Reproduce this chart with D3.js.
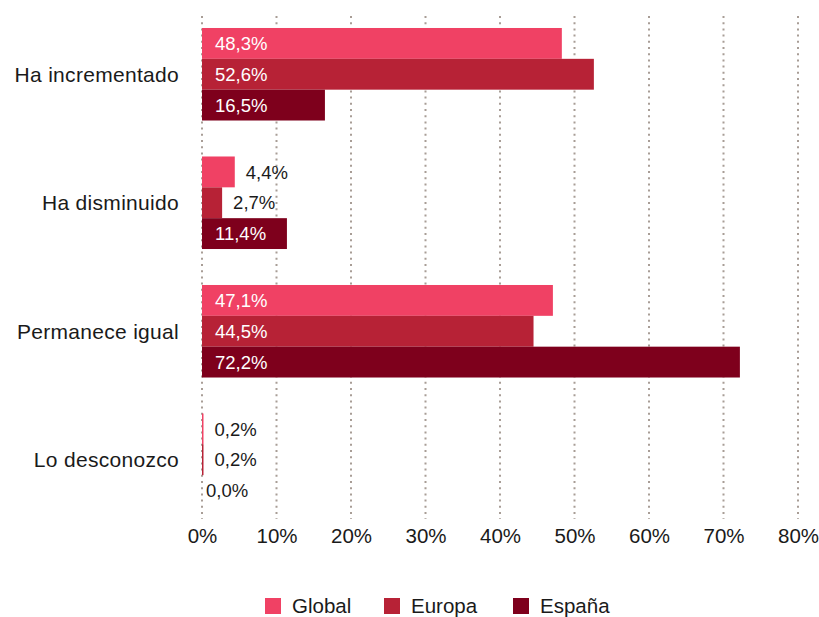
<!DOCTYPE html>
<html>
<head>
<meta charset="utf-8">
<script src="https://cdn.jsdelivr.net/npm/d3@7"></script>
<style>
  html, body { margin: 0; padding: 0; background: #fff; }
  svg { display: block; font-family: "Liberation Sans", Helvetica, Arial, sans-serif; }
</style>
</head>
<body>
<svg id="chart" width="819" height="617"></svg>
<script>
// Respuestas por categoría (porcentaje)
const categories = ["Ha incrementado", "Ha disminuido", "Permanece igual", "Lo desconozco"];
const seriesNames = ["Global", "Europa", "España"];
const globalValues = [48.3, 4.4, 47.1, 0.2];
const europaValues = [52.6, 2.7, 44.5, 0.2];
const espanaValues = [16.5, 11.4, 72.2, 0.0];
const tickValues = [0, 10, 20, 30, 40, 50, 60, 70, 80];
const seriesColors = ["#f04164", "#b72236", "#7e001c"];

const seriesValues = [globalValues, europaValues, espanaValues];
const rows = [];
categories.forEach((c, i) => {
  seriesNames.forEach((s, j) => rows.push({ category: c, series: s, value: seriesValues[j][i] }));
});

const svg = d3.select("#chart");
const textColor = "#1a1a1a";

const x = d3.scaleLinear().domain([0, 80]).range([202, 798]);
const y0 = d3.scaleBand().domain(categories).range([10, 524]).paddingInner(0.28).paddingOuter(0.14);
const y1 = d3.scaleBand().domain(seriesNames).range([0, y0.bandwidth()]);
const color = d3.scaleOrdinal().domain(seriesNames).range(seriesColors);

const locale = d3.formatLocale({ decimal: ",", thousands: ".", grouping: [3], currency: ["", "€"] });
const fmt = locale.format(".1f");

// Líneas de cuadrícula punteadas
svg.append("g")
  .selectAll("line")
  .data(tickValues)
  .join("line")
  .attr("x1", d => x(d)).attr("x2", d => x(d))
  .attr("y1", 16).attr("y2", 519)
  .attr("stroke", "#a89d96")
  .attr("stroke-width", 2)
  .attr("stroke-dasharray", "2 4.2");

// Eje inferior
const axis = svg.append("g")
  .attr("transform", "translate(0,520)")
  .call(d3.axisBottom(x).tickValues(tickValues).tickSize(0).tickPadding(8).tickFormat(d => d + "%"));
axis.select(".domain").remove();
axis.selectAll("text")
  .attr("font-size", 20.5)
  .attr("font-family", "Liberation Sans, Helvetica, Arial, sans-serif")
  .attr("fill", textColor);

// Etiquetas de categoría
svg.append("g")
  .selectAll("text")
  .data(categories)
  .join("text")
  .attr("x", 179)
  .attr("y", d => y0(d) + y0.bandwidth() / 2)
  .attr("dy", "0.36em")
  .attr("text-anchor", "end")
  .attr("font-size", 21)
  .attr("letter-spacing", 0.3)
  .attr("fill", textColor)
  .text(d => d);

// Barras
const groups = svg.append("g")
  .selectAll("g")
  .data(rows)
  .join("g")
  .attr("transform", d => `translate(0,${y0(d.category) + y1(d.series)})`);

groups.append("rect")
  .attr("x", x(0))
  .attr("y", 0)
  .attr("width", d => x(d.value) - x(0))
  .attr("height", y1.bandwidth())
  .attr("fill", d => color(d.series));

// Valores: dentro de la barra si cabe, fuera en caso contrario
groups.append("text")
  .attr("x", d => d.value >= 8 ? x(0) + 13 : (d.value === 0 ? x(0) + 4 : x(d.value) + 11))
  .attr("y", y1.bandwidth() / 2)
  .attr("dy", "0.36em")
  .attr("font-size", 18.5)
  .attr("fill", d => d.value >= 8 ? "#ffffff" : textColor)
  .text(d => fmt(d.value) + "%");

// Leyenda
const legendX = [265, 384, 513];
const legend = svg.append("g")
  .selectAll("g")
  .data(seriesNames)
  .join("g")
  .attr("transform", (d, i) => `translate(${legendX[i]},598)`);
legend.append("rect")
  .attr("width", 16).attr("height", 16)
  .attr("fill", d => color(d));
legend.append("text")
  .attr("x", 27).attr("y", 8)
  .attr("dy", "0.36em")
  .attr("font-size", 20.5)
  .attr("fill", textColor)
  .text(d => d);
</script>
</body>
</html>
